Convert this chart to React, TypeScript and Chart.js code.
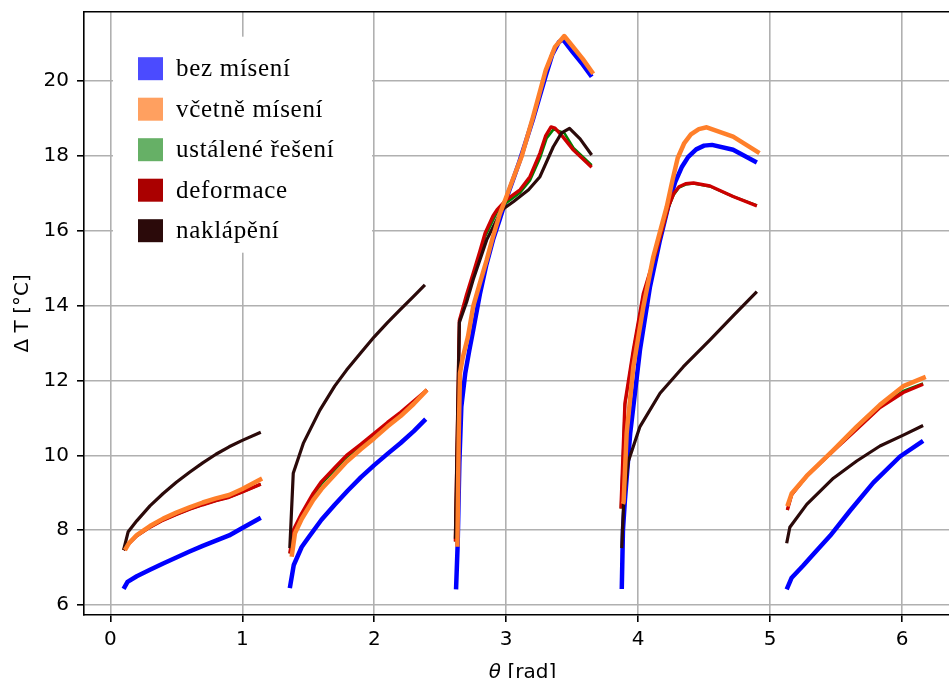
import React, { useEffect, useRef } from 'react';
import { Chart, registerables } from 'chart.js';

Chart.register(...registerables);

// ---- ticks & labels ----
const xTicks = [0, 1, 2, 3, 4, 5, 6];
const yTicks = [6, 8, 10, 12, 14, 16, 18, 20];
const xTitleSymbol = 'θ';
const xTitleRest = ' [rad]';
const yTitle = 'Δ T [°C]';
const seriesLabels = ['bez mísení', 'včetně mísení', 'ustálené řešení', 'deformace', 'naklápění'];
const lineColors = ['#0000ff', '#ff7f2a', '#008000', '#cc0000', '#2b0a0a'];
const patchColors = ['#4b4bff', '#ffa060', '#66b066', '#aa0000', '#2b0a0a'];

// ---- bez mísení (blue) ----
const bezTheta = [
  [0.10, 0.13, 0.2, 0.3, 0.4, 0.5, 0.6, 0.7, 0.8, 0.9, 1.0, 1.14],
  [1.36, 1.39, 1.45, 1.5, 1.6, 1.7, 1.8, 1.9, 2.0, 2.1, 2.2, 2.3, 2.39],
  [2.62, 2.632, 2.645, 2.66, 2.69, 2.72, 2.75, 2.8, 2.85, 2.9, 2.95, 3.0, 3.05, 3.1, 3.15, 3.2, 3.25, 3.3, 3.35, 3.4, 3.43, 3.5, 3.58, 3.648],
  [3.876, 3.885, 3.90, 3.94, 4.014, 4.09, 4.166, 4.24, 4.28, 4.33, 4.38, 4.44, 4.5, 4.56, 4.72, 4.90],
  [5.126, 5.164, 5.25, 5.328, 5.455, 5.606, 5.783, 5.985, 6.16],
];
const bezDT = [
  [6.43, 6.62, 6.77, 6.94, 7.11, 7.27, 7.43, 7.58, 7.72, 7.86, 8.06, 8.33],
  [6.45, 7.07, 7.55, 7.8, 8.28, 8.68, 9.06, 9.42, 9.74, 10.04, 10.33, 10.65, 10.97],
  [6.42, 7.6, 9.8, 11.3, 12.2, 12.8, 13.35, 14.3, 15.1, 15.76, 16.3, 16.85, 17.35, 17.85, 18.4, 18.95, 19.55, 20.15, 20.72, 21.05, 21.12, 20.8, 20.45, 20.12],
  [6.43, 8.0, 8.81, 10.59, 12.82, 14.51, 15.76, 16.83, 17.3, 17.7, 17.98, 18.18, 18.28, 18.3, 18.17, 17.83],
  [6.42, 6.73, 7.05, 7.36, 7.85, 8.52, 9.27, 9.97, 10.39],
];

// ---- včetně mísení (orange) ----
const vcetneTheta = [
  [0.11, 0.14, 0.2, 0.3, 0.4, 0.5, 0.6, 0.7, 0.8, 0.9, 1.0, 1.15],
  [1.374, 1.399, 1.45, 1.538, 1.6, 1.7, 1.79, 1.9, 2.0, 2.1, 2.2, 2.3, 2.40],
  [2.63, 2.64, 2.65, 2.67, 2.71, 2.75, 2.8, 2.852, 2.9, 2.953, 3.0, 3.04, 3.117, 3.2, 3.3, 3.37, 3.44, 3.5, 3.58, 3.66],
  [3.885, 3.89, 3.913, 3.964, 4.04, 4.115, 4.217, 4.26, 4.30, 4.35, 4.40, 4.46, 4.52, 4.72, 4.92],
  [5.131, 5.164, 5.278, 5.48, 5.657, 5.833, 6.01, 6.18],
];
const vcetneDT = [
  [7.47, 7.65, 7.87, 8.11, 8.31, 8.47, 8.61, 8.74, 8.85, 8.94, 9.1, 9.38],
  [7.29, 7.92, 8.3, 8.81, 9.1, 9.48, 9.83, 10.17, 10.46, 10.77, 11.05, 11.38, 11.75],
  [7.56, 10.5, 12.2, 12.6, 13.17, 13.98, 14.6, 15.22, 15.85, 16.47, 16.9, 17.28, 17.99, 19.0, 20.3, 20.92, 21.21, 20.95, 20.6, 20.2],
  [8.7, 8.76, 10.59, 12.37, 13.98, 15.31, 16.65, 17.35, 17.95, 18.35, 18.58, 18.72, 18.77, 18.52, 18.08],
  [8.64, 8.98, 9.45, 10.14, 10.77, 11.35, 11.85, 12.1],
];

// ---- ustálené řešení (green) ----
const ustaleneTheta = [
  [0.10, 0.135, 0.2, 0.3, 0.4, 0.5, 0.6, 0.7, 0.8, 0.9, 1.0, 1.14],
  [1.36, 1.386, 1.45, 1.538, 1.6, 1.7, 1.79, 1.9, 2.0, 2.1, 2.2, 2.3, 2.40],
  [2.615, 2.645, 2.7, 2.75, 2.84, 2.93, 3.0, 3.105, 3.18, 3.256, 3.307, 3.36, 3.44, 3.51, 3.648],
  [3.87, 3.90, 3.964, 4.04, 4.14, 4.23, 4.27, 4.31, 4.36, 4.42, 4.545, 4.72, 4.90],
  [5.131, 5.164, 5.278, 5.48, 5.657, 5.833, 6.01, 6.16],
];
const ustaleneDT = [
  [7.47, 7.62, 7.85, 8.08, 8.27, 8.42, 8.56, 8.68, 8.79, 8.88, 9.02, 9.23],
  [7.38, 7.97, 8.4, 8.93, 9.24, 9.61, 9.95, 10.26, 10.55, 10.85, 11.13, 11.43, 11.74],
  [7.7, 13.6, 14.2, 14.8, 15.85, 16.5, 16.75, 17.02, 17.35, 17.95, 18.48, 18.72, 18.62, 18.22, 17.76],
  [8.58, 11.35, 12.8, 14.3, 15.47, 16.62, 16.97, 17.16, 17.24, 17.27, 17.19, 16.92, 16.68],
  [8.54, 8.95, 9.45, 10.13, 10.72, 11.32, 11.72, 11.92],
];

// ---- deformace (red) ----
const deformaceTheta = [
  [0.10, 0.135, 0.2, 0.3, 0.4, 0.5, 0.6, 0.7, 0.8, 0.9, 1.0, 1.14],
  [1.36, 1.386, 1.45, 1.538, 1.6, 1.7, 1.79, 1.9, 2.0, 2.1, 2.2, 2.3, 2.40],
  [2.615, 2.645, 2.7, 2.75, 2.8, 2.84, 2.9, 2.93, 3.0, 3.105, 3.18, 3.256, 3.3, 3.34, 3.37, 3.433, 3.51, 3.648],
  [3.87, 3.90, 3.964, 4.04, 4.14, 4.23, 4.27, 4.31, 4.36, 4.42, 4.545, 4.72, 4.90],
  [5.131, 5.164, 5.278, 5.48, 5.657, 5.833, 6.01, 6.16],
];
const deformaceDT = [
  [7.47, 7.62, 7.85, 8.08, 8.27, 8.42, 8.56, 8.68, 8.79, 8.88, 9.02, 9.23],
  [7.38, 8.0, 8.45, 8.99, 9.3, 9.67, 10.0, 10.3, 10.59, 10.88, 11.15, 11.45, 11.75],
  [7.7, 13.6, 14.3, 14.87, 15.45, 15.94, 16.4, 16.56, 16.83, 17.1, 17.45, 18.08, 18.55, 18.78, 18.75, 18.5, 18.16, 17.7],
  [8.58, 11.39, 12.82, 14.33, 15.49, 16.65, 17.0, 17.18, 17.26, 17.28, 17.2, 16.92, 16.67],
  [8.54, 8.95, 9.45, 10.12, 10.7, 11.28, 11.68, 11.9],
];

// ---- naklápění (dark) ----
const naklapeniTheta = [
  [0.10, 0.135, 0.2, 0.3, 0.4, 0.5, 0.6, 0.7, 0.8, 0.9, 1.0, 1.14],
  [1.36, 1.386, 1.462, 1.588, 1.7, 1.79, 1.9, 2.0, 2.1, 2.195, 2.3, 2.384],
  [2.615, 2.645, 2.7, 2.75, 2.852, 2.966, 3.054, 3.17, 3.256, 3.357, 3.42, 3.48, 3.56, 3.648],
  [3.876, 3.89, 3.925, 4.014, 4.166, 4.343, 4.545, 4.72, 4.90],
  [5.126, 5.15, 5.278, 5.48, 5.657, 5.833, 6.01, 6.16],
];
const naklapeniDT = [
  [7.47, 7.96, 8.25, 8.65, 8.98, 9.28, 9.55, 9.8, 10.03, 10.23, 10.4, 10.62],
  [7.52, 9.52, 10.32, 11.21, 11.85, 12.28, 12.75, 13.17, 13.55, 13.89, 14.26, 14.56],
  [7.77, 13.55, 14.1, 14.7, 15.76, 16.56, 16.78, 17.1, 17.45, 18.25, 18.62, 18.74, 18.46, 18.03],
  [7.52, 8.72, 9.83, 10.77, 11.66, 12.37, 13.09, 13.73, 14.38],
  [7.65, 8.08, 8.69, 9.39, 9.85, 10.25, 10.54, 10.8],
];

const thetaSets = [bezTheta, vcetneTheta, ustaleneTheta, deformaceTheta, naklapeniTheta];
const dtSets = [bezDT, vcetneDT, ustaleneDT, deformaceDT, naklapeniDT];
const lineWidths = [4.5, 4.5, 2.6, 3.4, 3.2];
const drawOrder = [4, 0, 3, 2, 1];

function toPoints(thetaSegs: number[][], dtSegs: number[][]) {
  const pts: { x: number; y: number | null }[] = [];
  thetaSegs.forEach((seg, s) => {
    seg.forEach((x, i) => pts.push({ x, y: dtSegs[s][i] }));
    if (s < thetaSegs.length - 1) pts.push({ x: seg[seg.length - 1], y: null });
  });
  return pts;
}

const frameAndTextPlugin = {
  id: 'frameAndText',
  afterDraw(chart: any) {
    const { ctx, chartArea } = chart;
    const { left, top, right, bottom } = chartArea;
    ctx.save();
    // top / right spines
    ctx.strokeStyle = '#000';
    ctx.lineWidth = 1.6;
    ctx.beginPath();
    ctx.moveTo(left, top);
    ctx.lineTo(right, top);
    ctx.lineTo(right, bottom);
    ctx.stroke();

    // legend box
    ctx.fillStyle = '#ffffff';
    ctx.fillRect(left + 29, top + 25, 259, 216);
    ctx.font = '25px "Liberation Serif"';
    (ctx as any).letterSpacing = '0.7px';
    ctx.textBaseline = 'alphabetic';
    ctx.textAlign = 'left';
    seriesLabels.forEach((label, i) => {
      const cy = top + 57 + i * 40.5;
      ctx.fillStyle = patchColors[i];
      ctx.fillRect(left + 54, cy - 11.5, 25, 23);
      ctx.fillStyle = '#000';
      ctx.fillText(label, left + 92, cy + 7.5);
    });
    (ctx as any).letterSpacing = '0px';

    // x axis title
    const cx = (left + right) / 2 - 1.5;
    const by = bottom + 62.5;
    ctx.font = 'italic 20px "DejaVu Sans"';
    const w1 = ctx.measureText(xTitleSymbol).width;
    ctx.font = '20px "DejaVu Sans"';
    const w2 = ctx.measureText(xTitleRest).width;
    const x0 = cx - (w1 + w2) / 2;
    ctx.fillStyle = '#000';
    ctx.font = 'italic 20px "DejaVu Sans"';
    ctx.fillText(xTitleSymbol, x0, by);
    ctx.font = '20px "DejaVu Sans"';
    ctx.fillText(xTitleRest, x0 + w1, by);
    ctx.restore();
  },
};

export default function App() {
  const ref = useRef<HTMLCanvasElement>(null);

  useEffect(() => {
    const tickFont = { family: 'DejaVu Sans', size: 20 };
    const gridOpts = { color: '#b0b0b0', lineWidth: 1.6, tickColor: '#000', tickLength: 7, tickWidth: 1.6 };
    const chart = new Chart(ref.current as HTMLCanvasElement, {
      type: 'line',
      data: {
        datasets: seriesLabels.map((label, i) => ({
          label,
          data: toPoints(thetaSets[i], dtSets[i]),
          borderColor: lineColors[i],
          backgroundColor: lineColors[i],
          borderWidth: lineWidths[i],
          pointRadius: 0,
          tension: 0,
          spanGaps: false,
          fill: false,
          order: drawOrder[i],
        })),
      },
      options: {
        animation: false,
        responsive: false,
        devicePixelRatio: 1,
        layout: { padding: { left: 0, top: 11.7, right: 26, bottom: 0 } },
        plugins: { legend: { display: false }, tooltip: { enabled: false } },
        elements: { line: { borderCapStyle: 'butt', borderJoinStyle: 'round' } },
        scales: {
          x: {
            type: 'linear',
            min: -0.2,
            max: 6.47,
            afterBuildTicks: (s: any) => {
              s.ticks = xTicks.map((v) => ({ value: v }));
            },
            afterFit: (s: any) => {
              s.height = 85;
              s.paddingLeft = 0;
              s.paddingRight = 0;
            },
            grid: gridOpts,
            border: { color: '#000', width: 1.6 },
            ticks: {
              font: tickFont,
              color: '#000',
              padding: 6,
              maxRotation: 0,
              autoSkip: false,
              callback: (v: any) => String(v),
            },
          },
          y: {
            type: 'linear',
            min: 5.733,
            max: 21.86,
            afterBuildTicks: (s: any) => {
              s.ticks = yTicks.map((v) => ({ value: v }));
            },
            afterFit: (s: any) => {
              s.width = 84;
              s.paddingTop = 0;
              s.paddingBottom = 0;
            },
            grid: gridOpts,
            border: { color: '#000', width: 1.6 },
            ticks: {
              font: tickFont,
              color: '#000',
              padding: 8,
              autoSkip: false,
              callback: (v: any) => String(v),
            },
            title: {
              display: true,
              text: yTitle,
              color: '#000',
              font: { family: 'DejaVu Sans', size: 20 },
              padding: { top: 10.6, bottom: 0 },
            },
          },
        },
      },
      plugins: [frameAndTextPlugin],
    } as any);
    return () => chart.destroy();
  }, []);

  return (
    <div
      style={{
        position: 'fixed',
        left: 0,
        top: 0,
        width: 949,
        height: 678,
        overflow: 'hidden',
        background: '#fff',
      }}
    >
      <canvas ref={ref} width={990} height={700} style={{ display: 'block', width: 990, height: 700 }} />
    </div>
  );
}
